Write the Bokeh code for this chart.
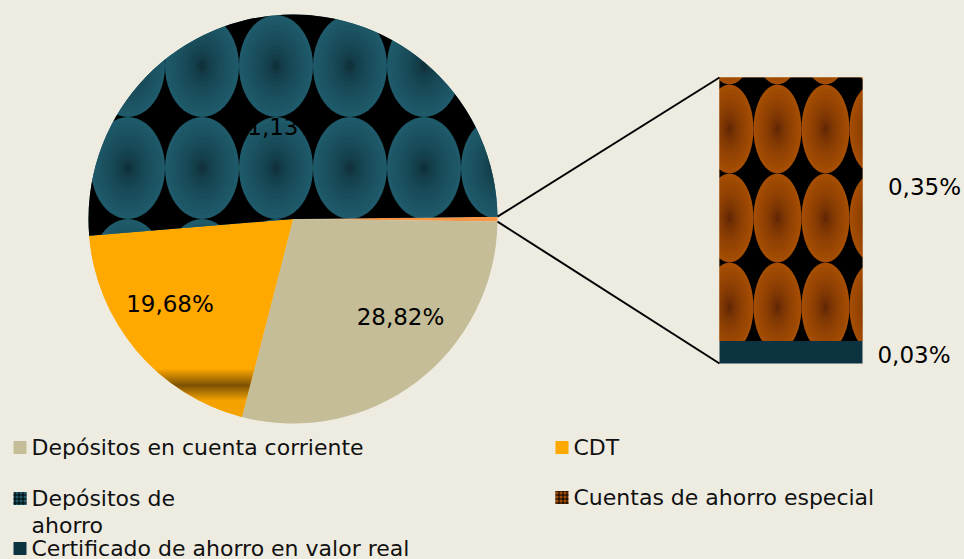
import numpy as np
from bokeh.core.properties import value
from bokeh.embed import file_html
from bokeh.models import CanvasTexture, Range1d
from bokeh.plotting import figure
from bokeh.resources import INLINE

# ---------------- data ----------------
pie_categories = ["Depósitos en cuenta corriente", "CDT", "Depósitos de ahorro"]
pie_values = [28.82, 19.68, 51.13]
pie_labels = ["28,82%", "19,68%", "51,13%"]

bar_categories = ["Cuentas de ahorro especial", "Certificado de ahorro en valor real"]
bar_values = [0.35, 0.03]
bar_labels = ["0,35%", "0,03%"]

# ---------------- styles / layout ----------------
W, H = 964, 559
BG = "#EEECE1"
FONT = "DejaVu Sans"
C_TAN = "#C4BD97"
C_CDT = "#FFA800"
C_AHORRO = "#1F5A6A"
C_OTROS = "#F79646"
C_ESP = "#A24C02"
C_CERT = "#0D3340"

PIE_CX, PIE_CY, PIE_R = 292.5, 218.5, 204.5
PIE_START = 0.64  # degrees, slices run clockwise from here
BAR_LEFT, BAR_RIGHT = 719, 862
BAR_BASE_PX, BAR_TOP_PX = 363, 77

# text anchor positions (alphabetic baseline, corrected for Bokeh's text box)
pie_label_pos = [(400, 316), (169.5, 303), (276, 126)]
bar_label_pos = [(924, 186), (913.5, 354)]


# ---------------- textures (decoration only, drawn in the browser) ----------------
def rgb(c):
    return "rgb(%d,%d,%d)" % tuple(int(round(x)) for x in c)


def ellipse_texture(w, h, ox, oy, edge, center):
    edge = np.array(edge, float)
    center = np.array(center, float)
    ks = [1.0, 0.9, 0.8, 0.7, 0.6, 0.5, 0.41, 0.32, 0.24, 0.16, 0.09]
    levels = []
    for k in ks:
        f = max(k - 0.05, 0) ** 0.55
        levels.append("[%.3f,'%s']" % (k, rgb(center + (edge - center) * f)))
    lv = "[" + ",".join(levels) + "]"
    code = f"""
const w = {w}, h = {h};
ctx.canvas.width = w;
ctx.canvas.height = h;
ctx.setTransform(1, 0, 0, 1, 0, 0);
const L = {lv};
ctx.fillStyle = "rgb(0,0,0)";
ctx.fillRect(0, 0, w, h);
for (let i = -1; i <= 1; i++) {{
  for (let j = -1; j <= 1; j++) {{
    const cx = {ox} + i * w, cy = {oy} + j * h;
    for (const [k, col] of L) {{
      ctx.fillStyle = col;
      ctx.beginPath();
      for (let t = 0; t < 48; t++) {{
        const a = t / 48 * 2 * Math.PI;
        const x = cx + k * w / 2 * Math.cos(a), y = cy + k * h / 2 * Math.sin(a);
        if (t == 0) ctx.moveTo(x, y); else ctx.lineTo(x, y);
      }}
      ctx.closePath();
      ctx.fill();
    }}
  }}
}}
"""
    return CanvasTexture(code=code, repetition="repeat")


def band_texture(h):
    orange = np.array([255, 168, 0], float)
    dark = np.array([125, 82, 5], float)
    gold = np.array([243, 162, 0], float)
    rows = []
    for yy in range(368, 402):
        if yy < 385:
            t = (yy - 368) / 17
            c = orange + (dark - orange) * t
        else:
            t = (yy - 385) / 15
            c = dark + (gold - dark) * min(t, 1)
        rows.append("[%d,'%s']" % (yy, rgb(c)))
    rv = "[" + ",".join(rows) + "]"
    code = f"""
const w = 4, h = {h};
ctx.canvas.width = w;
ctx.canvas.height = h;
ctx.setTransform(1, 0, 0, 1, 0, 0);
ctx.fillStyle = "rgb(255,168,0)";
ctx.fillRect(0, 0, w, h);
for (const [y, col] of {rv}) {{
  ctx.fillStyle = col;
  ctx.fillRect(0, y, w, 1);
}}
ctx.fillStyle = "rgb(243,162,0)";
ctx.fillRect(0, 402, w, h - 402);
"""
    return CanvasTexture(code=code, repetition="repeat")


textures = {
    "ahorro": ellipse_texture(74, 102, 54, 66, (31, 91, 107), (12, 42, 52)),
    "esp": ellipse_texture(48, 89, 9.5, 40, (166, 78, 3), (88, 32, 4)),
    "cdt": band_texture(H),
}


def tex_kw(name):
    if name is None:
        return {}
    return dict(hatch_pattern=value(name), hatch_extra={name: textures[name]})


# ---------------- figure ----------------
p = figure(width=W, height=H, output_backend="svg", toolbar_location=None,
           x_range=Range1d(0, W), y_range=Range1d(H, 0),
           x_axis_type=None, y_axis_type=None, min_border=0,
           background_fill_color=BG, border_fill_color=BG, outline_line_color=None)
p.grid.visible = False

# pie: "other" slice (sum of bar values) first, then the three categories, clockwise
otros = sum(bar_values)
slice_vals = [otros] + pie_values
slice_fill = [C_OTROS, C_TAN, C_CDT, C_AHORRO]
slice_tex = [None, None, "cdt", "ahorro"]
total = sum(slice_vals)
cum = 0.0
edges = []
for v, fc, tex in zip(slice_vals, slice_fill, slice_tex):
    a_from = PIE_START - cum / total * 360
    a_to = PIE_START - (cum + v) / total * 360
    edges.append((a_from, a_to))
    p.wedge(x=[PIE_CX], y=[PIE_CY], radius=[PIE_R], radius_units="screen",
            start_angle=[a_to], end_angle=[a_from], start_angle_units="deg",
            end_angle_units="deg", direction="anticlock",
            fill_color=fc, line_color=None, **tex_kw(tex))
    cum += v

# pie labels
p.text(x=[q[0] for q in pie_label_pos], y=[q[1] for q in pie_label_pos], text=pie_labels,
       text_font=value(FONT), text_font_size="23px", text_color="black",
       text_align="center", text_baseline="alphabetic")

# bar of the small slice, own value range
upp = otros / (BAR_BASE_PX - BAR_TOP_PX)
p.extra_y_ranges = {"bar": Range1d(-(H - BAR_BASE_PX) * upp, otros + BAR_TOP_PX * upp)}
stack_vals = bar_values[::-1]  # bottom to top
stack_fill = [C_CERT, C_ESP]
stack_tex = [None, "esp"]
b = 0.0
for v, fc, tex in zip(stack_vals, stack_fill, stack_tex):
    p.quad(left=[BAR_LEFT], right=[BAR_RIGHT], bottom=[b], top=[b + v],
           y_range_name="bar", fill_color=fc, line_color=None, **tex_kw(tex))
    b += v


def bar_px(v):
    return BAR_BASE_PX - v / upp


# connector lines
a_top, a_bot = edges[0]
x0 = [PIE_CX + PIE_R * np.cos(np.radians(a_top)), PIE_CX + PIE_R * np.cos(np.radians(a_bot))]
y0 = [PIE_CY - PIE_R * np.sin(np.radians(a_top)), PIE_CY - PIE_R * np.sin(np.radians(a_bot))]
p.segment(x0=x0, y0=y0, x1=[BAR_LEFT, BAR_LEFT], y1=[bar_px(otros), bar_px(0)],
          line_color="black", line_width=2)

# bar labels
p.text(x=[q[0] for q in bar_label_pos], y=[q[1] for q in bar_label_pos], text=bar_labels,
       text_font=value(FONT), text_font_size="23px", text_color="black",
       text_align="center", text_baseline="alphabetic")

# legend (manual, two columns)
leg_names = [pie_categories[0], pie_categories[1], pie_categories[2], bar_categories[0], bar_categories[1]]
leg_fill = [C_TAN, C_CDT, C_AHORRO, C_ESP, C_CERT]
leg_hatch = [None, None, "+", "+", None]
leg_pos = [(13, 447), (555, 447), (13, 498), (555, 497), (13, 548)]
leg_wrap = {"Depósitos de ahorro": ["Depósitos de", "ahorro"]}
for name, fc, hp, (lx, ly) in zip(leg_names, leg_fill, leg_hatch, leg_pos):
    kw = {}
    if hp is not None:
        kw = dict(hatch_pattern=hp, hatch_color="black", hatch_scale=4, hatch_weight=1)
    p.quad(left=[lx], right=[lx + 13], top=[ly - 6.5], bottom=[ly + 6.5],
           fill_color=fc, line_color=None, **kw)
    lines = leg_wrap.get(name, [name])
    p.text(x=[lx + 18] * len(lines), y=[ly - 0.5 + 27 * i for i in range(len(lines))], text=lines,
           text_font=value(FONT), text_font_size="22px", text_color="#111111",
           text_align="left", text_baseline="alphabetic")

html = file_html(p, INLINE, title="Depósitos")
html = html.replace("<head>", "<head><style>html,body{margin:0;padding:0;background:#EEECE1;overflow:hidden}</style>", 1)
open("out.html", "w").write(html)
